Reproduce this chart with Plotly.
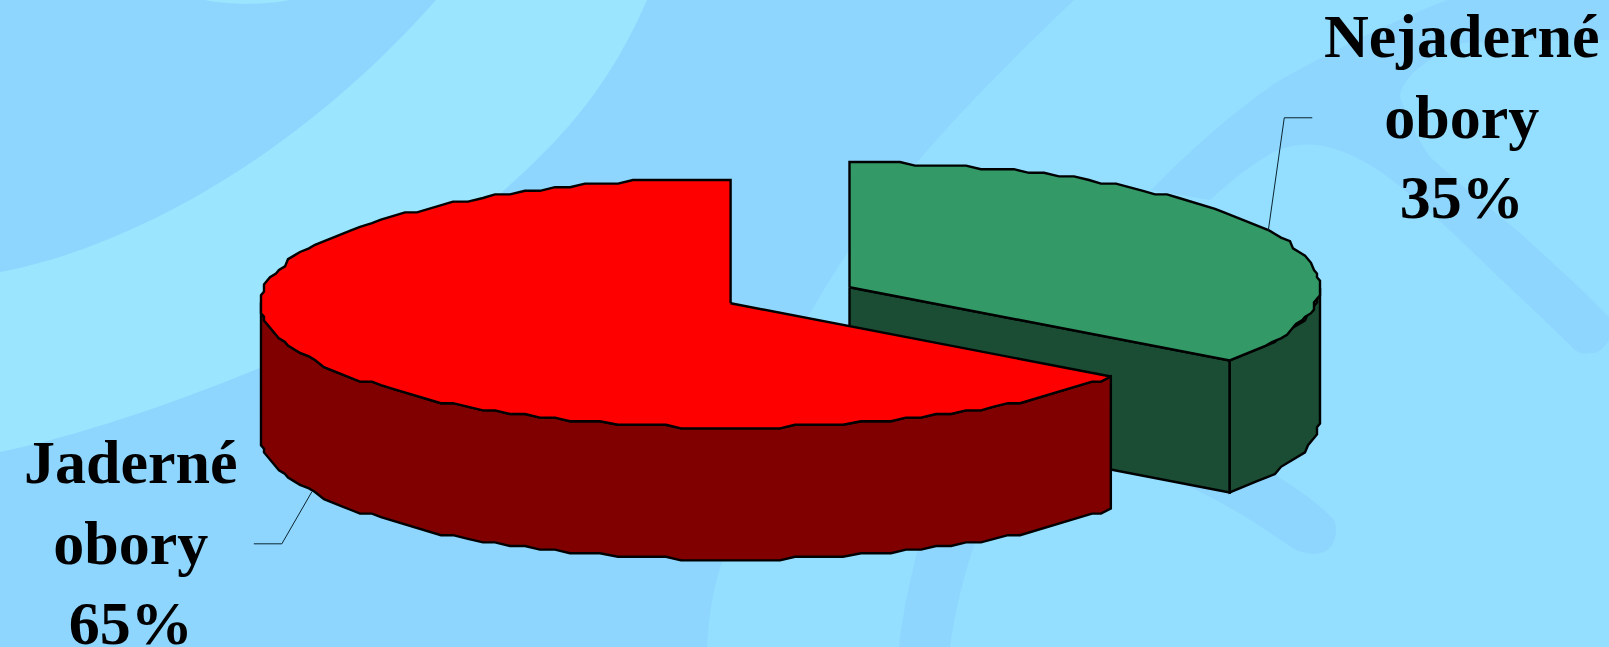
import numpy as np
import plotly.graph_objects as go

# --- data ---
categories = ["Jaderné obory", "Nejaderné obory"]
label_lines = [["Jaderné", "obory"], ["Nejaderné", "obory"]]
shares = [65, 35]

# --- look ---
W, H = 1609, 647
TOP = ["#FF0000", "#339966"]
SIDE = ["#800000", "#1A4D33"]
BG_DARK, BG_MID, BG_LIGHT = "#8FD6FF", "#94DEFF", "#9CE5FF"
RX, RY, DEPTH = 470, 124.5, 132
RED_C = (730.6, 303.3)
GREEN_C = (849.5, 287.3)


def rim(c, a0, a1, drop=0.0):
    """Ellipse arc, angle in degrees clockwise from 12 o'clock, with the coarse
    device rounding that gives the source its wavy rim."""
    n = int(abs(a1 - a0) / 2) + 1
    t = np.radians(np.linspace(a0, a1, n))
    x = np.round((c[0] + RX * np.sin(t)) / 3) * 3
    y = np.round((c[1] - RY * np.cos(t)) / 3.6) * 3.6
    return x, y + drop


def pt(c, a, drop=0.0):
    t = np.radians(a)
    return c[0] + RX * np.sin(t), c[1] - RY * np.cos(t) + drop


red_sweep = shares[0] / sum(shares) * 360
green_sweep = shares[1] / sum(shares) * 360

fig = go.Figure()


def poly(xs, ys, fill):
    fig.add_trace(go.Scatter(x=list(xs), y=list(ys), mode="lines", fill="toself",
                             fillcolor=fill, line=dict(color="black", width=2.4),
                             hoverinfo="skip", showlegend=False))


# Green slice: inner cut wall, outer wall, top
g_end = pt(GREEN_C, green_sweep)
poly([GREEN_C[0], g_end[0], g_end[0], GREEN_C[0], GREEN_C[0]],
     [GREEN_C[1], g_end[1], g_end[1] + DEPTH, GREEN_C[1] + DEPTH, GREEN_C[1]], SIDE[1])
xa, ya = rim(GREEN_C, 90, green_sweep)
xb, yb = rim(GREEN_C, green_sweep, 90, DEPTH)
xa[-1], ya[-1] = g_end
xb[0], yb[0] = g_end[0], g_end[1] + DEPTH
poly(np.r_[xa, xb, xa[0]], np.r_[ya, yb, ya[0]], SIDE[1])
xa, ya = rim(GREEN_C, 0, green_sweep)
xa[0], xa[-1], ya[-1] = GREEN_C[0], g_end[0], g_end[1]
poly(np.r_[GREEN_C[0], xa, GREEN_C[0]], np.r_[GREEN_C[1], ya, GREEN_C[1]], TOP[1])

# Red slice: outer wall, top (sweeps counter-clockwise from 12 o'clock)
r_end = pt(RED_C, -red_sweep)
xa, ya = rim(RED_C, -90, -red_sweep)
xb, yb = rim(RED_C, -red_sweep, -90, DEPTH)
xa[-1], ya[-1] = r_end
xb[0], yb[0] = r_end[0], r_end[1] + DEPTH
poly(np.r_[xa, xb, xa[0]], np.r_[ya, yb, ya[0]], SIDE[0])
xa, ya = rim(RED_C, 0, -red_sweep)
xa[0], xa[-1], ya[-1] = RED_C[0], r_end[0], r_end[1]
poly(np.r_[RED_C[0], xa, RED_C[0]], np.r_[RED_C[1], ya, RED_C[1]], TOP[0])

# Leader lines from each slice's mid angle
gm = pt(GREEN_C, green_sweep / 2)
rm = pt(RED_C, -red_sweep / 2, DEPTH)
for lx, ly in ([gm[0], gm[0] + 16, gm[0] + 44], [gm[1], gm[1] - 113, gm[1] - 113]), \
              ([rm[0], rm[0] - 30, rm[0] - 58], [rm[1], rm[1] + 52, rm[1] + 52]):
    fig.add_trace(go.Scatter(x=lx, y=ly, mode="lines", line=dict(color="#0a2530", width=1),
                             hoverinfo="skip", showlegend=False))


def bg(path, color):
    return dict(type="path", layer="below", line_width=0, fillcolor=color, path=path)


# Background swooshes
shapes = [
    bg("M0,272 C120,250 290,165 436,0 L647,0 C610,85 565,135 513,182 "
       "C430,260 350,330 262,367 C170,405 80,435 0,452 Z", BG_LIGHT),
    bg("M1074,0 L1609,0 L1609,647 L707,647 C709,610 715,580 724,557 "
       "C750,470 770,370 815,305 C880,190 980,90 1074,0 Z", BG_MID),
    bg("M205,0 C230,5 265,5 290,0 Z", BG_LIGHT),
    # lower band
    bg("M899,647 C903,610 910,580 920,540 L976,540 C965,570 955,610 950,647 Z", BG_DARK),
    # short band with a rounded end, under the green slice
    bg("M1181,483 L1272,473 C1300,490 1320,505 1334,520 C1340,535 1332,552 1320,553 "
       "C1310,555 1300,553 1291,547 C1255,522 1220,500 1181,483 Z", BG_DARK),
    # arc behind the top-right label, ending in a rounded tip
    bg("M1151,190 C1190,150 1235,110 1280,80 C1335,50 1390,22 1447,0 L1609,0 L1609,40 "
       "C1555,40 1505,40 1463,43 C1440,52 1425,62 1413,73 C1405,82 1400,90 1400,97 "
       "C1408,120 1418,140 1430,157 C1460,185 1490,208 1520,233 C1555,265 1585,292 1609,317 "
       "L1609,340 C1603,350 1596,354 1590,353 C1584,354 1579,353 1575,350 "
       "C1550,325 1528,305 1505,283 C1465,245 1425,205 1388,177 C1365,160 1340,148 1318,145 "
       "C1300,143 1285,146 1272,153 C1250,165 1230,182 1210,200 Z", BG_DARK),
]

# Labels
font = dict(size=62, family="Liberation Serif", color="black")
anns = [
    dict(x=131, y=542, text="<b>" + "<br>".join(label_lines[0] + [f"{shares[0]}%"]) + "</b>"),
    dict(x=1461, y=116, text="<b>" + "<br>".join(label_lines[1] + [f"{shares[1]}%"]) + "</b>"),
]
for a in anns:
    a.update(xref="x", yref="y", showarrow=False, xanchor="center", yanchor="middle",
             font=font, align="center")

fig.update_layout(
    width=W, height=H, margin=dict(l=0, r=0, t=0, b=0),
    paper_bgcolor=BG_DARK, plot_bgcolor=BG_DARK, showlegend=False,
    xaxis=dict(range=[0, W], visible=False, fixedrange=True),
    yaxis=dict(range=[H, 0], visible=False, fixedrange=True),
    shapes=shapes, annotations=anns,
)
fig.write_html("out.html", config={"displayModeBar": False},
               post_script="document.body.style.margin='0';document.body.style.background='%s';" % BG_DARK)
